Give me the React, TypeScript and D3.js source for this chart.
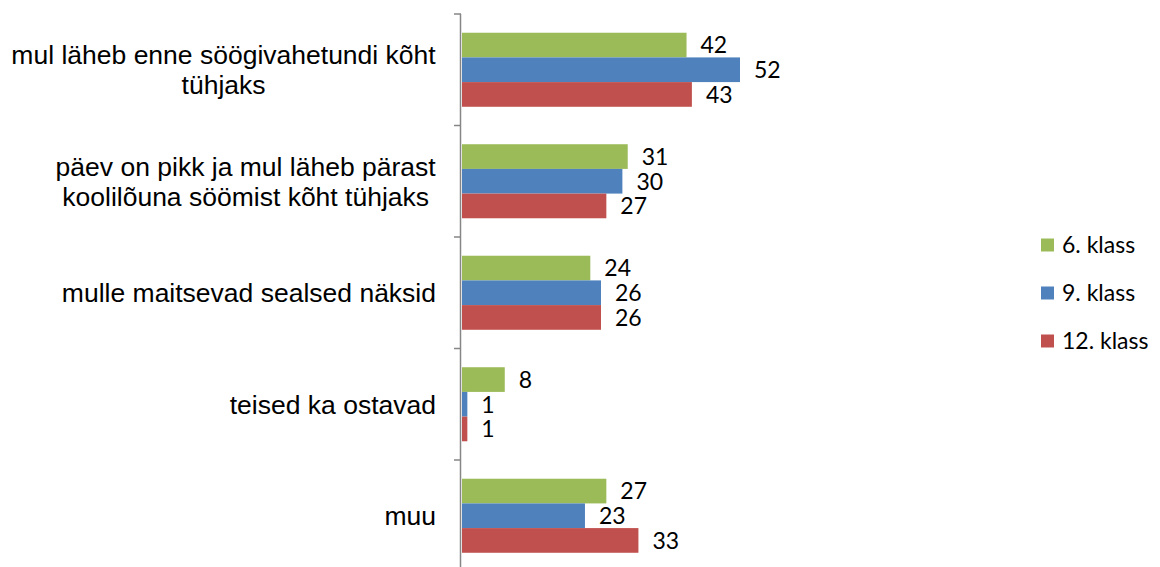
import { select, scaleBand, scaleLinear } from "d3";
import { useEffect, useRef } from "react";

const categories = [
  "mul läheb enne söögivahetundi kõht tühjaks",
  "päev on pikk ja mul läheb pärast koolilõuna söömist kõht tühjaks",
  "mulle maitsevad sealsed näksid",
  "teised ka ostavad",
  "muu",
];
// lines as wrapped in the original
const categoryLines = [
  ["mul läheb enne söögivahetundi kõht", "tühjaks"],
  ["päev on pikk ja mul läheb pärast", "koolilõuna söömist kõht tühjaks"],
  ["mulle maitsevad sealsed näksid"],
  ["teised ka ostavad"],
  ["muu"],
];
const seriesNames = ["6. klass", "9. klass", "12. klass"];
const seriesColors = ["#9BBB59", "#4F81BD", "#C0504D"];
const klass6 = [42, 31, 24, 8, 27];
const klass9 = [52, 30, 26, 1, 23];
const klass12 = [43, 27, 26, 1, 33];

const W = 1160;
const H = 567;

const App = () => {
  const svgRef = useRef<SVGSVGElement>(null);

  useEffect(() => {
    const svg = select(svgRef.current);
    svg.selectAll("*").remove();

    const series = [klass6, klass9, klass12];
    const data = categories.map((c, i) => ({
      cat: c,
      lines: categoryLines[i],
      values: series.map((s, k) => ({ name: seriesNames[k], value: s[i], color: seriesColors[k] })),
    }));

    const yScale = scaleBand()
      .domain(categories)
      .range([14, 571.5])
      .paddingInner(0.336)
      .paddingOuter(0.168);
    const step = yScale.step();
    const inner = scaleBand().domain(seriesNames).range([0, yScale.bandwidth()]);
    const xScale = scaleLinear().domain([0, 52]).range([462, 740]);

    // bars
    const groups = svg
      .selectAll(".grp")
      .data(data)
      .join("g")
      .attr("class", "grp")
      .attr("transform", (d) => `translate(0,${yScale(d.cat)})`);

    groups
      .selectAll("rect")
      .data((d) => d.values)
      .join("rect")
      .attr("x", xScale(0))
      .attr("y", (d) => inner(d.name)!)
      .attr("height", inner.bandwidth())
      .attr("width", (d) => xScale(d.value) - xScale(0))
      .attr("fill", (d) => d.color);

    groups
      .selectAll("text.val")
      .data((d) => d.values)
      .join("text")
      .attr("class", "val")
      .attr("x", (d) => xScale(d.value) + 14)
      .attr("y", (d) => inner(d.name)! + inner.bandwidth() / 2)
      .attr("dy", "0.36em")
      .attr("font-family", "Lato, 'Open Sans', sans-serif")
      .attr("font-size", 23)
      .attr("fill", "#000")
      .text((d) => d.value);

    // axis
    svg
      .append("line")
      .attr("x1", 460.5)
      .attr("x2", 460.5)
      .attr("y1", 14)
      .attr("y2", H)
      .attr("stroke", "#868686")
      .attr("stroke-width", 1.5);

    const tickYs = categories.map((c) => yScale(c)! - (step * yScale.paddingInner()) / 2);
    tickYs.push(tickYs[tickYs.length - 1] + step);
    svg
      .selectAll(".tick")
      .data(tickYs)
      .join("line")
      .attr("class", "tick")
      .attr("x1", 454)
      .attr("x2", 461)
      .attr("y1", (d) => d)
      .attr("y2", (d) => d)
      .attr("stroke", "#868686")
      .attr("stroke-width", 1.5);

    // category labels: lines centered on each other, block right-aligned
    const labelRight = 436;
    const lineH = 30;
    data.forEach((d) => {
      const cy = yScale(d.cat)! + yScale.bandwidth() / 2;
      const g = svg.append("g");
      const t = g
        .append("text")
        .attr("font-family", "'Liberation Sans', Arial, sans-serif")
        .attr("font-size", 26.5)
        .attr("fill", "#000")
        .attr("text-anchor", "middle");
      d.lines.forEach((ln, i) => {
        t.append("tspan")
          .attr("x", 0)
          .attr("y", cy + (i - (d.lines.length - 1) / 2) * lineH)
          .attr("dy", "0.35em")
          .text(ln);
      });
      const bb = (t.node() as SVGTextElement).getBBox();
      t.attr("transform", `translate(${labelRight - bb.width / 2},0)`);
    });

    // legend
    const legend = svg
      .selectAll(".leg")
      .data(seriesNames)
      .join("g")
      .attr("class", "leg")
      .attr("transform", (d, i) => `translate(1041,${245 + i * 48})`);
    legend
      .append("rect")
      .attr("x", 0)
      .attr("y", -6.5)
      .attr("width", 13)
      .attr("height", 13)
      .attr("fill", (d, i) => seriesColors[i]);
    legend
      .append("text")
      .attr("x", 21)
      .attr("y", 0)
      .attr("dy", "0.36em")
      .attr("font-family", "Lato, 'Open Sans', sans-serif")
      .attr("font-size", 23)
      .attr("fill", "#000")
      .text((d) => d);
  }, []);

  return (
    <svg
      ref={svgRef}
      width={W}
      height={H}
      style={{ position: "absolute", left: 0, top: 0, background: "#fff" }}
    ></svg>
  );
};

export default App;
